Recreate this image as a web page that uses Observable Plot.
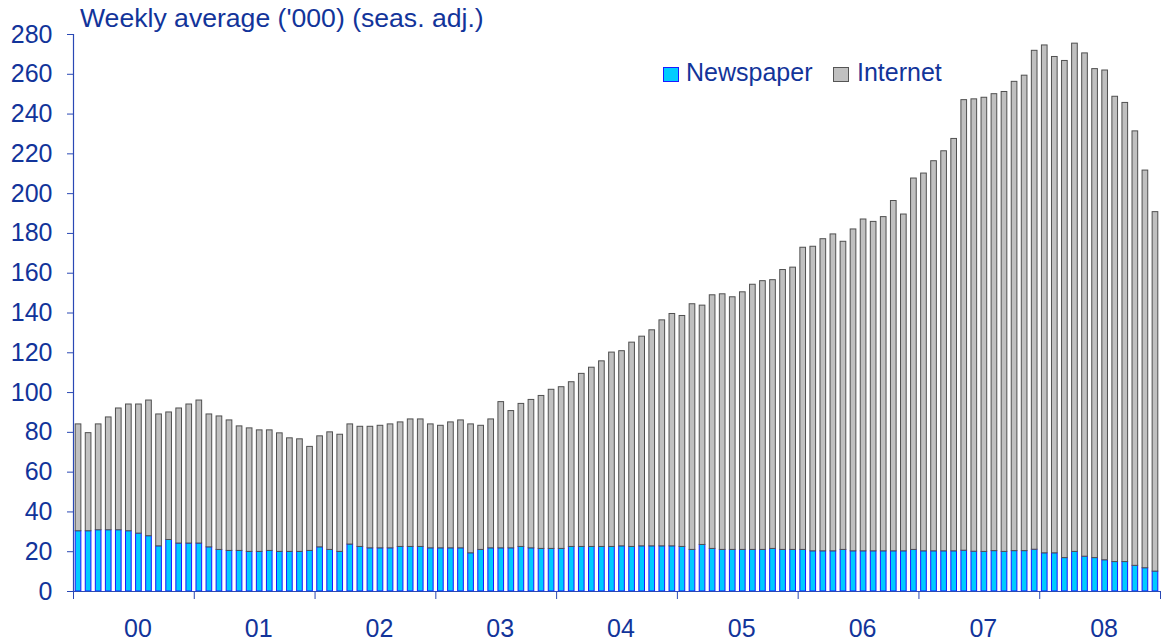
<!DOCTYPE html>
<html>
<head>
<meta charset="utf-8">
<script src="https://cdn.jsdelivr.net/npm/d3@7"></script>
<script src="https://cdn.jsdelivr.net/npm/@observablehq/plot@0.6"></script>
<style>
  html, body { margin: 0; padding: 0; background: #fff; }
  #wrap { position: relative; width: 1162px; height: 643px; font-family: "Liberation Sans", Arial, sans-serif; color: #12349a; }
  .t { position: absolute; line-height: 1; white-space: nowrap; }
  .sq { position: absolute; width: 15.5px; height: 15.5px; box-sizing: border-box; }
</style>
</head>
<body>
<div id="wrap">
  <div class="t" id="title" style="left:80px; top:4.5px; font-size:26.6px;"></div>
  <div class="sq" style="left:663px; top:66.5px; background:#00ccff; border:1px solid #1a1aff;"></div>
  <div class="t" id="leg1" style="left:686px; top:60.3px; font-size:25px;"></div>
  <div class="sq" style="left:833px; top:66.5px; background:#c0c0c0; border:1px solid #555;"></div>
  <div class="t" id="leg2" style="left:857px; top:60.3px; font-size:25px;"></div>
</div>
<script>
const titleText = "Weekly average ('000) (seas. adj.)";
const seriesNames = ["Newspaper", "Internet"];
const yearLabels = ["00", "01", "02", "03", "04", "05", "06", "07", "08"];
const yTicks = [0, 20, 40, 60, 80, 100, 120, 140, 160, 180, 200, 220, 240, 260, 280];

// Monthly values, Jan 2000 - Dec 2008
const newspaper = [
  30.3, 30.3, 30.8, 30.8, 30.8, 30.3, 29.1, 27.8, 22.7, 25.9, 24.1, 24.1,
  24.1, 22.2, 20.9, 20.4, 20.4, 19.9, 19.9, 20.4, 19.9, 19.9, 19.9, 20.4,
  22.2, 20.9, 19.9, 23.6, 22.4, 21.7, 21.7, 21.7, 22.4, 22.4, 22.4, 21.7,
  21.7, 21.7, 21.7, 19.2, 20.9, 21.7, 21.7, 21.7, 22.4, 21.7, 21.4, 21.4,
  21.4, 22.4, 22.4, 22.4, 22.4, 22.4, 22.7, 22.4, 22.7, 22.7, 22.7, 22.7,
  22.4, 20.9, 23.4, 21.4, 20.9, 20.9, 20.9, 20.9, 20.9, 21.4, 20.9, 20.9,
  20.9, 20.2, 20.2, 20.2, 20.9, 20.2, 20.2, 20.2, 20.2, 20.2, 20.2, 20.9,
  20.2, 20.2, 20.2, 20.2, 20.5, 20.0, 19.9, 20.3, 19.9, 20.3, 20.3, 21.0,
  19.2, 19.2, 16.8, 19.9, 17.5, 16.8, 15.7, 14.8, 14.8, 12.9, 11.7, 10.0
];
const internet = [
  53.7, 49.3, 53.2, 56.7, 61.2, 63.7, 64.9, 68.2, 66.3, 64.1, 67.9, 69.9,
  71.9, 66.8, 67.1, 65.6, 62.6, 62.1, 61.1, 60.6, 59.6, 57.1, 56.6, 52.3,
  55.8, 59.1, 58.9, 60.4, 60.4, 61.1, 61.6, 62.3, 62.6, 64.1, 64.1, 62.3,
  61.6, 63.3, 64.3, 64.8, 62.4, 64.8, 73.5, 69.0, 71.9, 74.6, 76.9, 80.0,
  81.3, 82.8, 87.0, 90.1, 93.3, 97.7, 98.1, 102.7, 105.4, 108.6, 113.6, 116.8,
  116.1, 123.5, 120.3, 127.5, 128.5, 127.0, 129.5, 133.3, 135.1, 135.1, 140.7, 141.9,
  151.9, 153.1, 156.9, 159.3, 154.9, 161.8, 166.8, 165.6, 168.0, 176.1, 169.3, 186.7,
  189.9, 196.1, 201.1, 207.3, 226.5, 227.4, 228.3, 229.7, 231.2, 235.9, 239.0, 250.8,
  255.3, 249.5, 249.9, 255.5, 253.0, 245.8, 246.2, 233.9, 230.8, 218.4, 199.9, 180.7
];

document.getElementById("title").textContent = titleText;
document.getElementById("leg1").textContent = seriesNames[0];
document.getElementById("leg2").textContent = seriesNames[1];

const rows = [
  ...newspaper.map((v, i) => ({m: i, v, s: seriesNames[0]})),
  ...internet.map((v, i) => ({m: i, v, s: seriesNames[1]}))
];
const nMonths = newspaper.length;
const yearStarts = yearLabels.map((d, i) => i * 12).concat([nMonths]);
const yearMids = yearLabels.map((d, i) => i * 12 + 6);

const axisColor = "#2a48b4";
const textColor = "#12349a";

const chart = Plot.plot({
  width: 1162,
  height: 643,
  marginLeft: 73,
  marginRight: 2,
  marginTop: 34,
  marginBottom: 52,
  x: {domain: [0, nMonths], axis: null},
  y: {domain: [0, 280], axis: null},
  style: {fontFamily: "'Liberation Sans', Arial, sans-serif", fontSize: "25px", color: textColor, background: "white"},
  marks: [
    Plot.rectY(rows, {
      x: "m", interval: 1, y: "v",
      fill: d => d.s === seriesNames[0] ? "#00ccff" : "#c0c0c0",
      stroke: d => d.s === seriesNames[0] ? "#1a1aff" : "#505050",
      strokeWidth: 1,
      insetLeft: 2.2, insetRight: 2.2
    }),
    Plot.ruleY([0], {stroke: axisColor, strokeWidth: 1.2}),
    Plot.ruleX([0], {stroke: axisColor, strokeWidth: 1.2}),
    Plot.axisY({ticks: yTicks, tickSize: 6, tickPadding: 15, stroke: axisColor, fill: textColor, label: null, fontSize: 25}),
    Plot.axisX({ticks: yearStarts, tickSize: 8, tickFormat: () => "", stroke: axisColor, label: null}),
    Plot.axisX({ticks: yearMids, tickSize: 0, tickPadding: 28, dx: 4, tickFormat: d => yearLabels[(d - 6) / 12], fill: textColor, label: null, fontSize: 25})
  ]
});
chart.style.position = "absolute";
chart.style.left = "0px";
chart.style.top = "0px";
const wrap = document.getElementById("wrap");
wrap.insertBefore(chart, wrap.firstChild);
</script>
</body>
</html>
